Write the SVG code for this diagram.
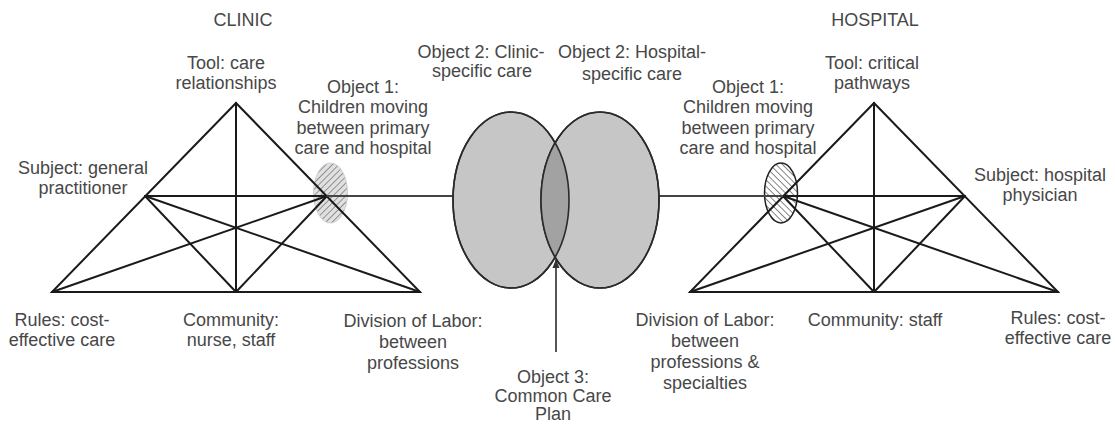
<svg xmlns="http://www.w3.org/2000/svg" width="1115" height="425" viewBox="0 0 1115 425">
<style>
text{font-family:"Liberation Sans",Arial,sans-serif;font-size:18px;fill:#474747;text-anchor:middle}
.tri{stroke:#1a1a1a;stroke-width:2;fill:none;stroke-linecap:round}
.link{stroke:#444;stroke-width:1.8;fill:none}
.venn{fill:#c6c6c6;stroke:#2a2a2a;stroke-width:1.6}
</style>
<defs>
<pattern id="hatchL" width="4.5" height="4.5" patternUnits="userSpaceOnUse" patternTransform="rotate(45)">
<rect width="4.5" height="4.5" fill="#e0e0e0"/>
<line x1="0" y1="0" x2="0" y2="4.5" stroke="#8a8a8a" stroke-width="1.8"/>
</pattern>
<pattern id="hatchR" width="4.5" height="4.5" patternUnits="userSpaceOnUse" patternTransform="rotate(-45)">
<rect width="4.5" height="4.5" fill="#fff"/>
<line x1="0" y1="0" x2="0" y2="4.5" stroke="#555" stroke-width="1.4"/>
</pattern>
<clipPath id="clipLeft"><ellipse cx="511" cy="200" rx="58" ry="88"/></clipPath>
<marker id="arrow" viewBox="0 0 10 10" refX="9" refY="5" markerWidth="9" markerHeight="9" orient="auto" markerUnits="userSpaceOnUse">
<path d="M0,1 L10,5 L0,9 z" fill="#333"/>
</marker>
</defs>

<g id="clinic-title"><text x="243" y="26">CLINIC</text></g>
<g id="hospital-title"><text x="875" y="26">HOSPITAL</text></g>

<g id="clinic-object1-shape"><ellipse cx="330.5" cy="193" rx="17" ry="30" fill="url(#hatchL)" stroke="#cfcfcf" stroke-width="1"/></g>
<g id="hospital-object1-shape"><ellipse cx="781" cy="193" rx="16.5" ry="30" fill="url(#hatchR)" stroke="#222" stroke-width="1.5"/></g>

<g id="connectors">
<path class="tri" d="M236,103 L52,292 L420,292 Z"/>
<line class="tri" x1="236" y1="103" x2="236" y2="292"/>
<line class="tri" x1="145" y1="196" x2="327" y2="196"/>
<line class="tri" x1="145" y1="196" x2="236" y2="292"/>
<line class="tri" x1="145" y1="196" x2="420" y2="292"/>
<line class="tri" x1="327" y1="196" x2="236" y2="292"/>
<line class="tri" x1="327" y1="196" x2="52" y2="292"/>
<path class="tri" d="M874,103 L690,292 L1058,292 Z"/>
<line class="tri" x1="874" y1="103" x2="874" y2="292"/>
<line class="tri" x1="783" y1="196" x2="965" y2="196"/>
<line class="tri" x1="783" y1="196" x2="874" y2="292"/>
<line class="tri" x1="783" y1="196" x2="1058" y2="292"/>
<line class="tri" x1="965" y1="196" x2="874" y2="292"/>
<line class="tri" x1="965" y1="196" x2="690" y2="292"/>
<line class="link" x1="327" y1="196" x2="453" y2="196"/>
<line class="link" x1="659" y1="196" x2="783" y2="196"/>
<line class="link" x1="556" y1="352" x2="556" y2="260" marker-end="url(#arrow)"/>
</g>

<g id="object2-clinic">
<ellipse class="venn" cx="511" cy="200" rx="58" ry="88"/>
<text x="481" y="58">Object 2: Clinic-</text>
<text x="482" y="77">specific care</text>
</g>
<g id="object2-hospital">
<ellipse class="venn" cx="600" cy="200" rx="59" ry="88"/>
<ellipse cx="600" cy="200" rx="59" ry="88" fill="#a2a2a2" stroke="none" clip-path="url(#clipLeft)"/>
<ellipse cx="511" cy="200" rx="58" ry="88" fill="none" stroke="#2a2a2a" stroke-width="1.6"/>
<ellipse cx="600" cy="200" rx="59" ry="88" fill="none" stroke="#2a2a2a" stroke-width="1.6"/>
<text x="632" y="58">Object 2: Hospital-</text>
<text x="632" y="80">specific care</text>
</g>
<g id="object3">
<text x="553" y="383">Object 3:</text>
<text x="553" y="402">Common Care</text>
<text x="553" y="420">Plan</text>
</g>

<g id="clinic-tool">
<text x="226" y="69">Tool: care</text>
<text x="226" y="89">relationships</text>
</g>
<g id="clinic-object1">
<text x="363" y="93">Object 1:</text>
<text x="363" y="113">Children moving</text>
<text x="363" y="134">between primary</text>
<text x="363" y="154">care and hospital</text>
</g>
<g id="clinic-subject">
<text x="83" y="174">Subject: general</text>
<text x="83" y="194">practitioner</text>
</g>
<g id="clinic-rules">
<text x="62" y="326">Rules: cost-</text>
<text x="62" y="346">effective care</text>
</g>
<g id="clinic-community">
<text x="231" y="326">Community:</text>
<text x="231" y="346">nurse, staff</text>
</g>
<g id="clinic-division">
<text x="413" y="327">Division of Labor:</text>
<text x="413" y="348">between</text>
<text x="413" y="369">professions</text>
</g>

<g id="hospital-tool">
<text x="872" y="69">Tool: critical</text>
<text x="872" y="89">pathways</text>
</g>
<g id="hospital-object1">
<text x="748" y="93">Object 1:</text>
<text x="748" y="113">Children moving</text>
<text x="748" y="134">between primary</text>
<text x="748" y="154">care and hospital</text>
</g>
<g id="hospital-subject">
<text x="1040" y="181">Subject: hospital</text>
<text x="1040" y="201">physician</text>
</g>
<g id="hospital-division">
<text x="705" y="326">Division of Labor:</text>
<text x="705" y="347">between</text>
<text x="705" y="368">professions &amp;</text>
<text x="705" y="389">specialties</text>
</g>
<g id="hospital-community">
<text x="875" y="326">Community: staff</text>
</g>
<g id="hospital-rules">
<text x="1058" y="324">Rules: cost-</text>
<text x="1058" y="344">effective care</text>
</g>
</svg>
